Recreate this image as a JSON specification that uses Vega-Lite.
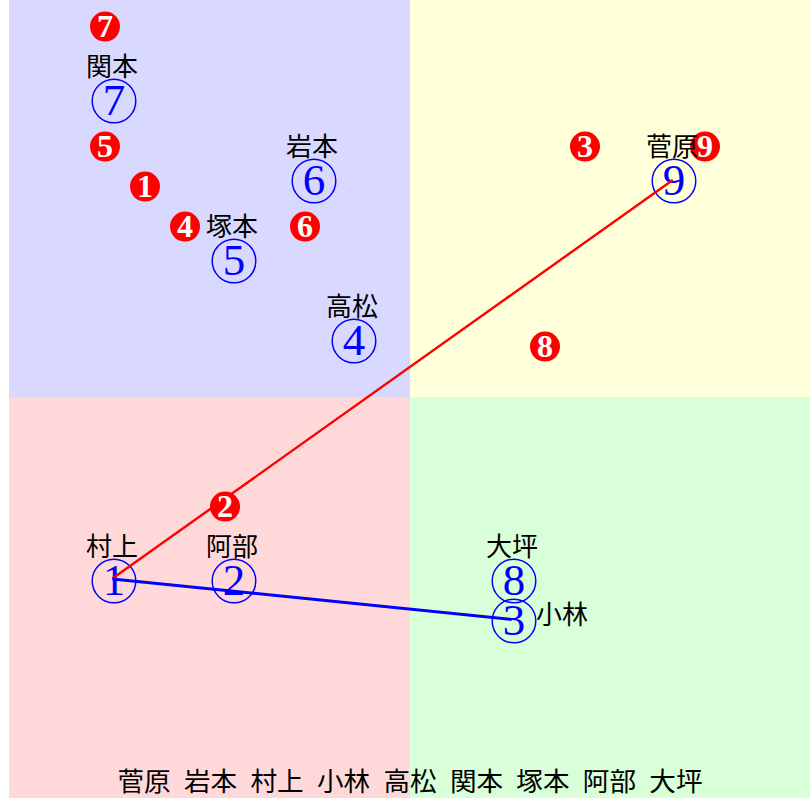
{
  "$schema": "https://vega.github.io/schema/vega-lite/v6.json",
  "width": 801,
  "height": 798,
  "autosize": {"type": "none"},
  "padding": {"left": 9, "right": 0, "top": 0, "bottom": 0},
  "background": "#ffffff",
  "config": {"view": {"stroke": null}},
  "datasets": {
    "quadrants": [
      {"zone": "upper-left", "x": -10.025, "x2": 0, "y": 0, "y2": 9.925},
      {"zone": "upper-right", "x": 0, "x2": 10, "y": 0, "y2": 9.925},
      {"zone": "lower-left", "x": -10.025, "x2": 0, "y": -10.025, "y2": 0},
      {"zone": "lower-right", "x": 0, "x2": 10, "y": -10.025, "y2": 0}
    ],
    "people": [
      {"n": "1", "name": "村上", "x": -7.4, "y": -4.6},
      {"n": "2", "name": "阿部", "x": -4.4, "y": -4.6},
      {"n": "3", "name": "小林", "x": 2.6, "y": -5.6},
      {"n": "4", "name": "高松", "x": -1.4, "y": 1.4},
      {"n": "5", "name": "塚本", "x": -4.4, "y": 3.4},
      {"n": "6", "name": "岩本", "x": -2.4, "y": 5.4},
      {"n": "7", "name": "関本", "x": -7.4, "y": 7.4},
      {"n": "8", "name": "大坪", "x": 2.6, "y": -4.6},
      {"n": "9", "name": "菅原", "x": 6.6, "y": 5.4}
    ],
    "ranks": [
      {"k": "1", "x": -6.625, "y": 5.26},
      {"k": "2", "x": -4.625, "y": -2.74},
      {"k": "3", "x": 4.375, "y": 6.26},
      {"k": "4", "x": -5.625, "y": 4.26},
      {"k": "5", "x": -7.625, "y": 6.26},
      {"k": "6", "x": -2.625, "y": 4.26},
      {"k": "7", "x": -7.625, "y": 9.26},
      {"k": "8", "x": 3.375, "y": 1.26},
      {"k": "9", "x": 7.375, "y": 6.26}
    ],
    "links": [
      {"line": "red", "o": 1, "x": -7.44, "y": -4.54},
      {"line": "red", "o": 2, "x": 6.57, "y": 5.425},
      {"line": "blue", "o": 1, "x": -7.44, "y": -4.55},
      {"line": "blue", "o": 2, "x": 2.54, "y": -5.56}
    ],
    "caption": [
      {"text": "菅原\u2002岩本\u2002村上\u2002小林\u2002高松\u2002関本\u2002塚本\u2002阿部\u2002大坪", "x": 0, "y": -9.65}
    ]
  },
  "encoding": {
    "x": {"field": "x", "type": "quantitative", "scale": {"domain": [-10.025, 10], "nice": false, "zero": false}, "axis": null},
    "y": {"field": "y", "type": "quantitative", "scale": {"domain": [-10.025, 9.925], "nice": false, "zero": false}, "axis": null}
  },
  "layer": [
    {
      "data": {"name": "quadrants"},
      "mark": {"type": "rect"},
      "encoding": {
        "x2": {"field": "x2"},
        "y2": {"field": "y2"},
        "color": {"field": "zone", "type": "nominal", "legend": null,
          "scale": {"domain": ["upper-left", "upper-right", "lower-left", "lower-right"], "range": ["#d9d9ff", "#ffffd9", "#ffd9d9", "#d9ffd9"]}}
      }
    },
    {
      "data": {"name": "people"},
      "mark": {"type": "point", "shape": "circle", "size": 1900, "filled": false, "color": "#0000ff", "strokeWidth": 1.5, "opacity": 1}
    },
    {
      "data": {"name": "people"},
      "mark": {"type": "text", "font": "Liberation Serif", "fontSize": 45, "color": "#0000ff", "align": "center", "baseline": "middle"},
      "encoding": {"text": {"field": "n"}}
    },
    {
      "data": {"name": "links"},
      "transform": [{"filter": "datum.line === 'red'"}],
      "mark": {"type": "line", "color": "#ff0000", "strokeWidth": 2.4},
      "encoding": {"order": {"field": "o", "type": "quantitative"}}
    },
    {
      "data": {"name": "links"},
      "transform": [{"filter": "datum.line === 'blue'"}],
      "mark": {"type": "line", "color": "#0000ff", "strokeWidth": 3},
      "encoding": {"order": {"field": "o", "type": "quantitative"}}
    },
    {
      "data": {"name": "ranks"},
      "mark": {"type": "circle", "size": 900, "color": "#ff0000", "opacity": 1}
    },
    {
      "data": {"name": "ranks"},
      "mark": {"type": "text", "font": "Liberation Serif", "fontWeight": "bold", "fontSize": 32, "color": "#ffffff", "align": "center", "baseline": "middle"},
      "encoding": {"text": {"field": "k"}}
    },
    {
      "data": {"name": "people"},
      "transform": [{"filter": "datum.name !== '小林'"}],
      "mark": {"type": "text", "font": "Noto Sans CJK JP", "fontSize": 26, "color": "#000000", "align": "center", "baseline": "middle", "dx": -2, "dy": -33},
      "encoding": {"text": {"field": "name"}}
    },
    {
      "data": {"name": "people"},
      "transform": [{"filter": "datum.name === '小林'"}],
      "mark": {"type": "text", "font": "Noto Sans CJK JP", "fontSize": 26, "color": "#000000", "align": "left", "baseline": "middle", "dx": 22, "dy": -5},
      "encoding": {"text": {"field": "name"}}
    },
    {
      "data": {"name": "caption"},
      "mark": {"type": "text", "font": "Noto Sans CJK JP", "fontSize": 26.6, "color": "#000000", "align": "center", "baseline": "middle"},
      "encoding": {"text": {"field": "text"}}
    }
  ]
}
